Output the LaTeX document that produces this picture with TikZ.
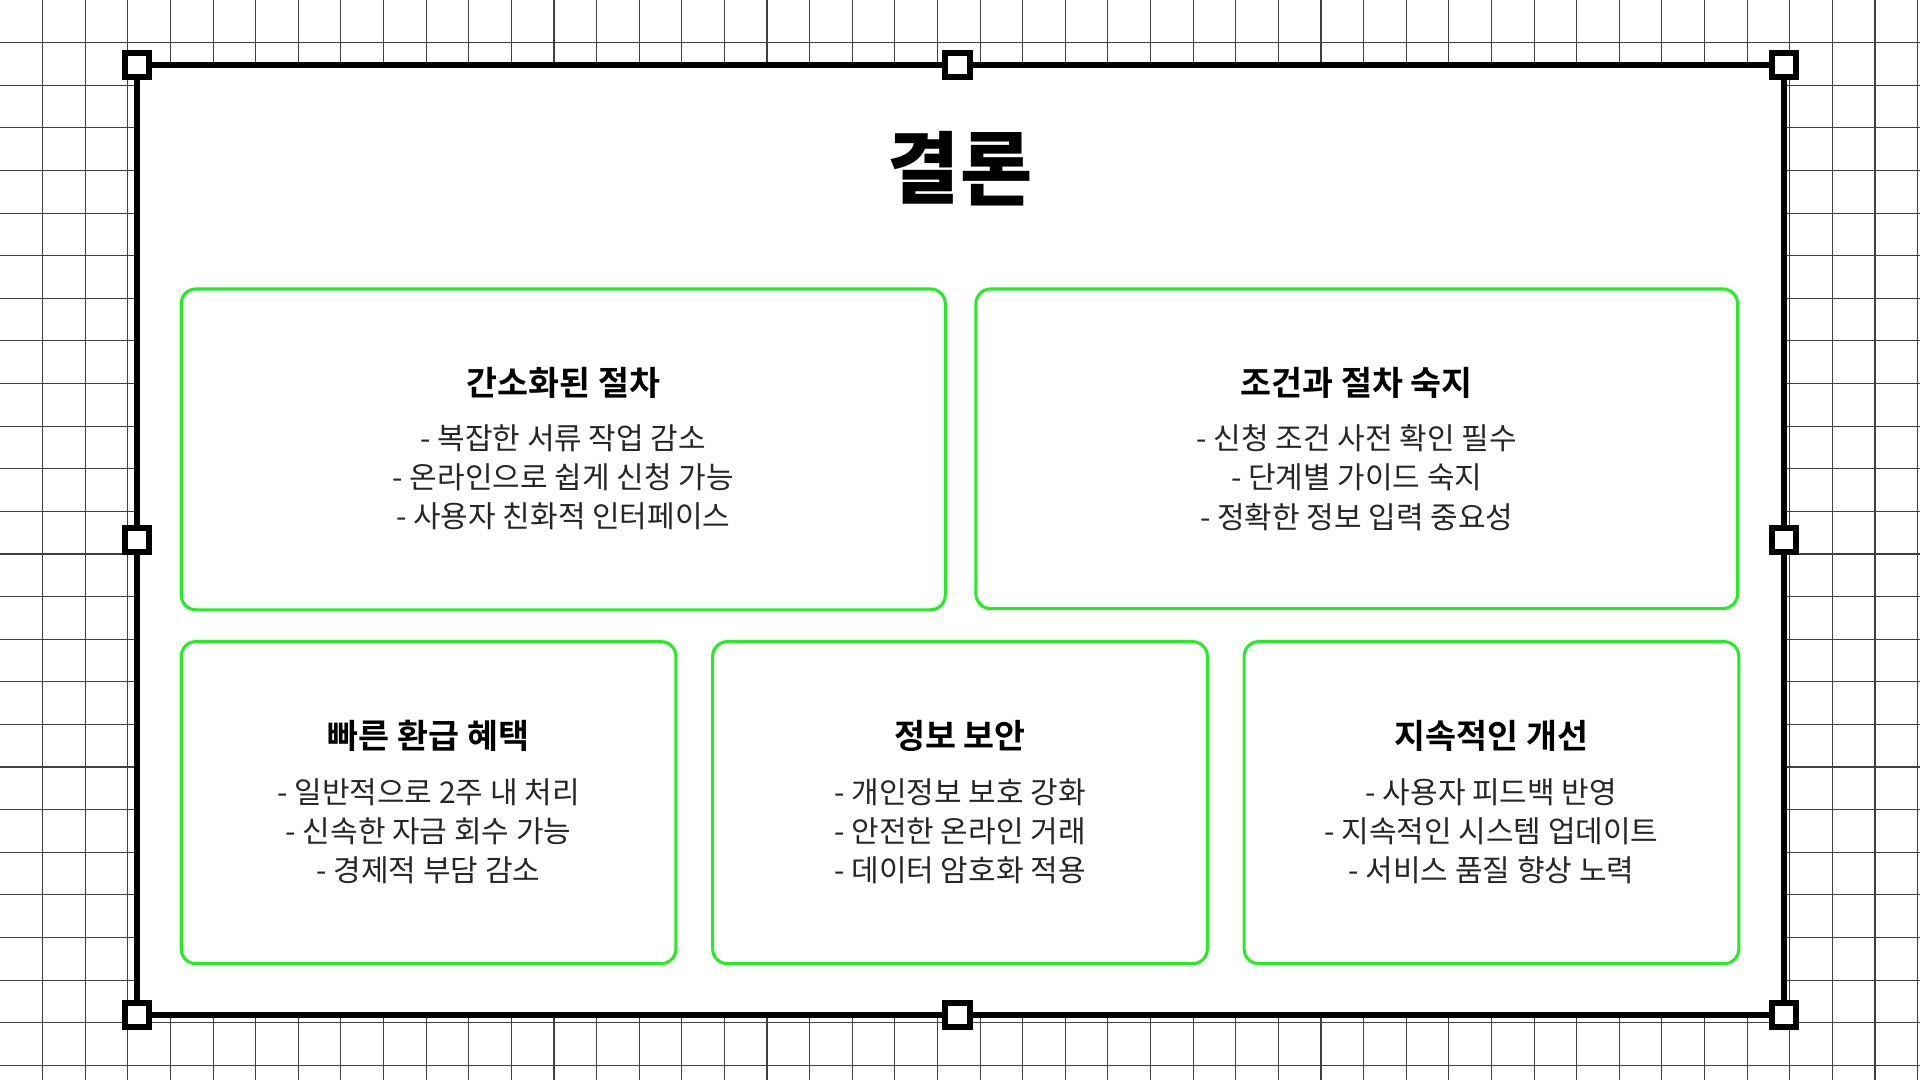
\documentclass[tikz,border=0pt]{standalone}
\usepackage{fontspec}
\newfontfamily\kr{Noto Sans CJK KR}
\newfontfamily\krb{Noto Sans CJK KR Bold}
\newfontfamily\krk{Noto Sans CJK KR Black}
\definecolor{grn}{HTML}{22EE22}
\tikzset{card/.style={draw=grn,line width=2.5pt,rounded corners=12pt,fill=white},
 handle/.style={draw=black,line width=5pt,fill=white,minimum size=20pt,inner sep=0pt},
 ttl/.style={font=\krb\fontsize{27.5}{30}\selectfont},
 itm/.style={font=\kr\fontsize{24.5}{32}\selectfont,text=black!85,align=center}}
\begin{document}
\begin{tikzpicture}[x=1pt,y=-1pt]
\useasboundingbox (0,0) rectangle (1568,882);
\fill[white] (0,0) rectangle (1568,882);
\foreach \i in {1,...,45} {\draw[black!75,line width=0.9pt] (\i*34.8,0) -- (\i*34.8,882);}
\foreach \i in {1,...,25} {\draw[black!75,line width=0.9pt] (0,\i*34.8) -- (1568,\i*34.8);}
\draw[line width=4.5pt,fill=white] (112,53) rectangle (1457,829);
\foreach \x/\y [count=\n] in {112/53,782/53,1457/53,112/441,1457/441,112/829,782/829,1457/829} \node[handle] (h\n) at (\x,\y) {};
\node[font=\krk\fontsize{64}{70}\selectfont] (title) at (784,138) {결론};
\draw[card] (148,236) rectangle (772,498);
\draw[card] (797,236) rectangle (1419,497);
\draw[card] (148,524) rectangle (552,787);
\draw[card] (582,524) rectangle (986,787);
\draw[card] (1016,524) rectangle (1420,787);
\node[ttl] (t1) at (460,313) {간소화된 절차};
\node[itm] (i1) at (460,390) {- 복잡한 서류 작업 감소\\- 온라인으로 쉽게 신청 가능\\- 사용자 친화적 인터페이스};
\node[ttl] (t2) at (1108,313) {조건과 절차 숙지};
\node[itm] (i2) at (1108,390) {- 신청 조건 사전 확인 필수\\- 단계별 가이드 숙지\\- 정확한 정보 입력 중요성};
\node[ttl] (t3) at (350,601) {빠른 환급 혜택};
\node[itm] (i3) at (350,679) {- 일반적으로 2주 내 처리\\- 신속한 자금 회수 가능\\- 경제적 부담 감소};
\node[ttl] (t4) at (784,601) {정보 보안};
\node[itm] (i4) at (784,679) {- 개인정보 보호 강화\\- 안전한 온라인 거래\\- 데이터 암호화 적용};
\node[ttl] (t5) at (1218,601) {지속적인 개선};
\node[itm] (i5) at (1218,679) {- 사용자 피드백 반영\\- 지속적인 시스템 업데이트\\- 서비스 품질 향상 노력};
\end{tikzpicture}
\end{document}
